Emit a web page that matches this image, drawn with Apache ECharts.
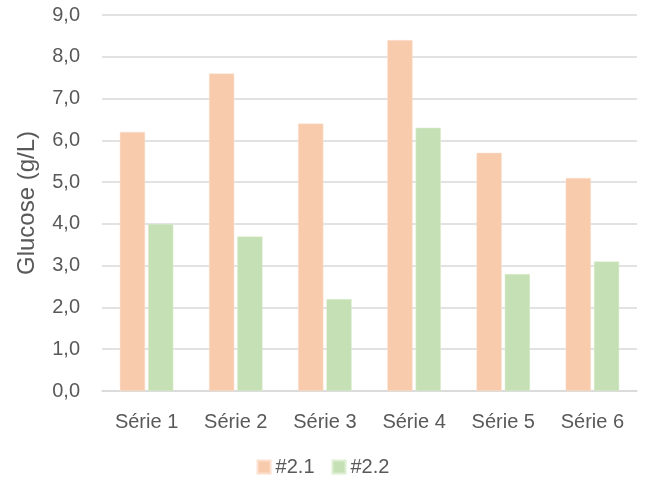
<!DOCTYPE html>
<html>
<head>
<meta charset="utf-8">
<script src="https://cdn.jsdelivr.net/npm/echarts@6/dist/echarts.min.js"></script>
<style>
html,body{margin:0;padding:0;background:#fff;}
#chart{width:646px;height:488px;}
</style>
</head>
<body>
<div id="chart"></div>
<script>
// Glucose concentration per series, two measurement groups
const categories = ['Série 1', 'Série 2', 'Série 3', 'Série 4', 'Série 5', 'Série 6'];
const values21 = [6.2, 7.6, 6.4, 8.4, 5.7, 5.1];
const values22 = [4.0, 3.7, 2.2, 6.3, 2.8, 3.1];
const seriesNames = ['#2.1', '#2.2'];

const FONT = 'Liberation Sans, Noto Sans, sans-serif';
const TEXT = '#595959';

const chart = echarts.init(document.getElementById('chart'), null, {renderer: 'canvas'});
chart.setOption({
  animation: false,
  textStyle: {fontFamily: FONT},
  grid: {left: 102, right: 9, top: 15, bottom: 97},
  legend: {
    data: seriesNames,
    bottom: 6,
    left: 'center',
    itemWidth: 13,
    itemHeight: 13,
    itemGap: 17,
    icon: 'rect',
    textStyle: {color: TEXT, fontSize: 20, fontFamily: FONT}
  },
  xAxis: {
    type: 'category',
    data: categories,
    axisLine: {lineStyle: {color: '#d9d9d9', width: 1.5}},
    axisTick: {show: false},
    axisLabel: {color: TEXT, fontSize: 20, margin: 21, fontFamily: FONT}
  },
  yAxis: {
    type: 'value',
    min: 0,
    max: 9,
    interval: 1,
    name: 'Glucose (g/L)',
    nameLocation: 'middle',
    nameGap: 63,
    nameTextStyle: {color: TEXT, fontSize: 24, fontFamily: FONT},
    axisLine: {show: false},
    axisTick: {show: false},
    splitLine: {lineStyle: {color: '#d9d9d9', width: 1.5}},
    axisLabel: {
      color: TEXT, fontSize: 20, margin: 22, fontFamily: FONT,
      formatter: v => v.toFixed(1).replace('.', ',')
    }
  },
  series: [
    {
      name: seriesNames[0],
      type: 'bar',
      data: values21,
      barGap: '12%',
      barCategoryGap: '40%',
      itemStyle: {color: '#F8CBAD', borderColor: '#fbe0cf', borderWidth: 0.5}
    },
    {
      name: seriesNames[1],
      type: 'bar',
      data: values22,
      itemStyle: {color: '#C5E0B4', borderColor: '#ddeed3', borderWidth: 0.5}
    }
  ]
});
</script>
</body>
</html>
